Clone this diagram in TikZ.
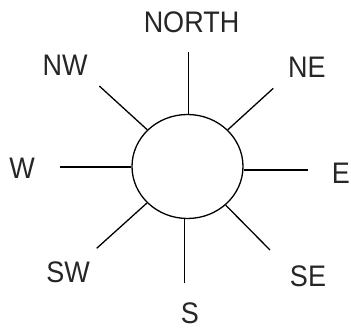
\documentclass[tikz,border=0pt]{standalone}
\usepackage{fontspec}
\setmainfont{Liberation Sans}
\usetikzlibrary{shapes.geometric}
\begin{document}
\begin{tikzpicture}[x=1pt,y=-1pt,
  ray/.style={draw=black,line width=1.3pt},
  lbl/.style={font=\fontsize{27}{27}\selectfont,text=black!85,inner sep=0pt,anchor=center,yscale=1.1}]
\useasboundingbox (0,0) rectangle (351,329);
\node[ellipse,draw=black,line width=1.3pt,minimum width=111pt,minimum height=104pt,inner sep=0pt] (c) at (187.5,166.5) {};
% outer ends of rays
\coordinate (n) at (188.3,51.7);
\coordinate (s) at (184.3,283);
\coordinate (w) at (60,167);
\coordinate (e) at (308,170);
\coordinate (nw) at (99.3,86);
\coordinate (ne) at (273.3,88.3);
\coordinate (sw) at (96.7,248.3);
\coordinate (se) at (270,250);
\draw[ray] (n) -- (n |- c.north);
\draw[ray] (s) -- (s |- c.south);
\draw[ray] (w) -- (w -| c.west);
\draw[ray] (e) -- (e -| c.east);
\draw[ray] (nw) -- (c);
\draw[ray] (ne) -- (c);
\draw[ray] (sw) -- (c);
\draw[ray] (se) -- (c);
% labels
\node[lbl] (tN) at (191.5,22.5) {NORTH};
\node[lbl] (tNW) at (65,65) {NW};
\node[lbl] (tNE) at (307,67) {NE};
\node[lbl] (tW) at (22,168) {W};
\node[lbl] (tE) at (341,173) {E};
\node[lbl] (tSW) at (68,272) {SW};
\node[lbl] (tSE) at (308,276) {SE};
\node[lbl] (tS) at (190,313) {S};
\end{tikzpicture}
\end{document}
